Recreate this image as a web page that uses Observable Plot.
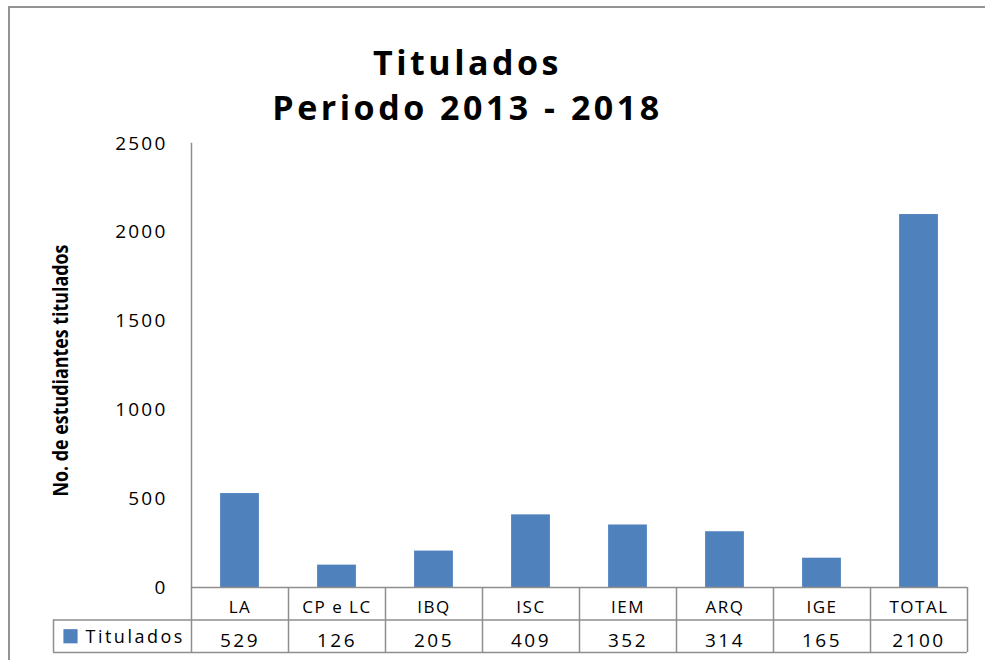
<!DOCTYPE html>
<html><head><meta charset="utf-8">
<script src="https://cdn.jsdelivr.net/npm/d3@7"></script>
<script src="https://cdn.jsdelivr.net/npm/@observablehq/plot@0.6"></script>
<style>
html,body{margin:0;padding:0;background:#fff;overflow:hidden;}
#wrap{position:relative;width:985px;height:660px;overflow:hidden;}
#border{position:absolute;left:8px;top:6px;width:1000px;height:700px;border:2px solid #939393;pointer-events:none;box-sizing:border-box;}
#chart svg{display:block;}
</style></head>
<body><div id="wrap"><div id="chart"></div><div id="border"></div></div>
<script>
const categories = ["LA", "CP e LC", "IBQ", "ISC", "IEM", "ARQ", "IGE", "TOTAL"];
const values = [529, 126, 205, 409, 352, 314, 165, 2100];
const seriesName = "Titulados";
const yTicks = [0, 500, 1000, 1500, 2000, 2500];
const titleLines = ["Titulados", "Periodo 2013 - 2018"];
const yLabel = "No. de estudiantes titulados";

const data = categories.map((c, i) => ({cat: c, value: values[i]}));
const width = 985, height = 660, mL = 191, mR = 18, mT = 143, mB = 73;
const step = (width - mL - mR) / categories.length;
const barInset = step * 0.3;
const legendW = 138;
const row = 32.5;
const grid = "#8e8e8e";
const blue = "#4f81bd";
const first = categories[0], last = categories[categories.length - 1];

const chart = Plot.plot({
  width, height,
  marginLeft: mL, marginRight: mR, marginTop: mT, marginBottom: mB,
  style: {fontFamily: "'Open Sans', sans-serif", color: "#000", background: "#fff", overflow: "visible"},
  x: {type: "band", domain: categories, padding: 0, axis: null},
  y: {domain: [0, 2500], axis: null},
  marks: [
    Plot.axisY({ticks: yTicks, tickSize: 0, tickPadding: 24, fontSize: 19, tickFormat: d => String(d), label: null, ariaDescription: "yticks"}),
    Plot.barY(data, {x: "cat", y: "value", fill: blue, insetLeft: barInset, insetRight: barInset}),
    Plot.frame({anchor: "left", stroke: grid, strokeWidth: 1.5}),
    Plot.ruleY([0], {stroke: grid, strokeWidth: 1.5}),
    Plot.ruleY([0], {dy: row, insetLeft: -legendW, stroke: grid, strokeWidth: 1.5}),
    Plot.ruleY([0], {dy: 2 * row, insetLeft: -legendW, stroke: grid, strokeWidth: 1.5}),
    Plot.ruleX(categories, {x: d => d, dx: -step / 2, y1: 0, y2: 0, insetBottom: -2 * row, stroke: grid, strokeWidth: 1.5}),
    Plot.ruleX([last], {x: d => d, dx: step / 2, y1: 0, y2: 0, insetBottom: -2 * row, stroke: grid, strokeWidth: 1.5}),
    Plot.ruleX([first], {x: d => d, dx: -step / 2 - legendW, y1: 0, y2: 0, insetTop: row, insetBottom: -2 * row, stroke: grid, strokeWidth: 1.5}),
    Plot.text(data, {x: "cat", y: () => 0, text: "cat", dy: 20, fontSize: 17, ariaDescription: "cats"}),
    Plot.text(data, {x: "cat", y: () => 0, text: d => String(d.value), dy: 53, fontSize: 19, ariaDescription: "vals"}),
    Plot.dot([seriesName], {x: () => first, y: () => 0, dx: -step / 2 - legendW + 17, dy: row * 1.5, symbol: "square", r: 8, fill: blue, stroke: "none"}),
    Plot.text([seriesName], {x: () => first, y: () => 0, text: d => d, textAnchor: "start", dx: -step / 2 - legendW + 32, dy: row * 1.5 + 1, fontSize: 18, ariaDescription: "legend"}),
    Plot.text([titleLines.join("\n")], {frameAnchor: "top", lineAnchor: "top", textAnchor: "middle", dx: 467 - (mL + (width - mL - mR) / 2), dy: -100, fontSize: 34, fontWeight: "bold", lineHeight: 1.32, ariaDescription: "title"}),
    Plot.text([yLabel], {frameAnchor: "left", textAnchor: "middle", rotate: -90, dx: -130, dy: 5, fontSize: 21, fontWeight: "bold", ariaDescription: "ylabel"})
  ]
});
document.getElementById("chart").append(chart);

const svg = d3.select(chart);
const ls = (label, v) => svg.selectAll(`g[aria-description="${label}"] text`).style("letter-spacing", v);
ls("yticks", "2.2px");
ls("cats", "1.5px");
ls("vals", "2.5px");
ls("legend", "2.5px");
ls("title", "3.5px");
svg.selectAll('g[aria-description="ylabel"] text').attr("textLength", 252).attr("lengthAdjust", "spacingAndGlyphs");
</script>
</body></html>
